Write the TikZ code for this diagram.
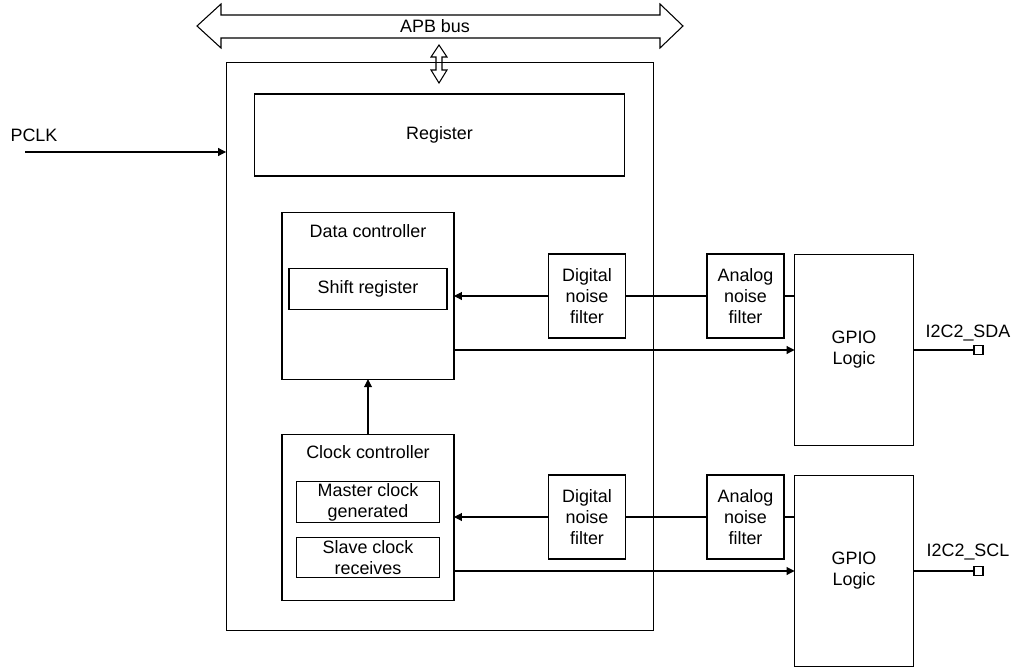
\documentclass[tikz,border=0pt]{standalone}
\usepackage{fontspec}
\setmainfont{Liberation Sans}
\usetikzlibrary{arrows.meta,positioning,calc}

\begin{document}
\begin{tikzpicture}[
    x=0.02cm,y=-0.02cm,>={Triangle[length=4.5pt,width=4.5pt]},line width=0.6pt,
    every node/.style={font=\fontsize{10.2}{12}\selectfont,align=center},
    block/.style={draw,inner sep=0pt,outer sep=0pt},
    ctlbox/.style={block,minimum width=3.44cm,minimum height=3.33cm},
    subbox/.style={block,minimum height=0.81cm},
    filterbox/.style={block,minimum width=1.54cm,minimum height=1.68cm},
    gpiobox/.style={block,minimum width=2.38cm,minimum height=3.82cm},
    pad/.style={draw,fill=white,inner sep=0pt,minimum size=0.18cm}
  ]
  \useasboundingbox (0,0) rectangle (1017,669);
  % bus and port
  \draw (197,26) -- (221,4) -- (221,15) -- (660,15) -- (660,4) -- (683,26)
    -- (660,48) -- (660,38) -- (221,38) -- (221,48) -- cycle;
  \node (apb) at (435,26) {APB bus};
  \draw (439,45) -- (447,57) -- (442,57) -- (442,70) -- (447,70) -- (439,83)
    -- (431,70) -- (436,70) -- (436,57) -- (431,57) -- cycle;
  % I2C block
  \node[block,minimum width=8.56cm,minimum height=11.38cm] (i2c) at (440,346.5) {};
  \node[block,minimum width=7.42cm,minimum height=1.64cm] (reg) at (439.5,135) {Register};
  \node[ctlbox] (datactl) at (368,296) {};
  \node (datatitle) at (368,231) {Data controller};
  \node[subbox,minimum width=3.16cm] (shift) at (368,289) {Shift register};
  \node[ctlbox] (clkctl) at (368,517.5) {};
  \node (clktitle) at (368,452) {Clock controller};
  \node[subbox,minimum width=2.86cm] (master) at (368,502) {Master clock\\generated};
  \node[subbox,minimum width=2.86cm] (slave) at (368,557.5) {Slave clock\\receives};
  % filters and GPIO
  \node[filterbox] (dnfa) at (587,296) {Digital\\noise\\filter};
  \node[filterbox] (anfa) at (745.5,296) {Analog\\noise\\filter};
  \node[gpiobox] (gpioa) at (854,350) {GPIO\\Logic};
  \node[filterbox] (dnfb) at (587,517) {Digital\\noise\\filter};
  \node[filterbox] (anfb) at (745.5,517) {Analog\\noise\\filter};
  \node[gpiobox] (gpiob) at (854,571) {GPIO\\Logic};
  \node[pad] (sda) at (978.5,350) {};
  \node[pad] (scl) at (978.5,571) {};
  \node (sdalabel) at (968,333) {I2C2\_SDA};
  \node (scllabel) at (968,552) {I2C2\_SCL};
  % clock input
  \coordinate (pclk) at (25,152);
  \node (pclklabel) at (34,135) {PCLK};
  \draw[->] (pclk) -- (pclk -| i2c.west);
  % signals
  \draw[->] (clkctl.north) -- (datactl.south);
  \draw[->] (dnfa.west) -- (dnfa.west -| datactl.east);
  \draw (dnfa.east) -- (anfa.west);
  \draw (anfa.east) -- (anfa.east -| gpioa.west);
  \draw[->] (datactl.east |- gpioa.west) -- (gpioa.west);
  \draw (gpioa.east) -- (sda.west);
  \draw[->] (dnfb.west) -- (dnfb.west -| clkctl.east);
  \draw (dnfb.east) -- (anfb.west);
  \draw (anfb.east) -- (anfb.east -| gpiob.west);
  \draw[->] (clkctl.east |- gpiob.west) -- (gpiob.west);
  \draw (gpiob.east) -- (scl.west);
\end{tikzpicture}
\end{document}
